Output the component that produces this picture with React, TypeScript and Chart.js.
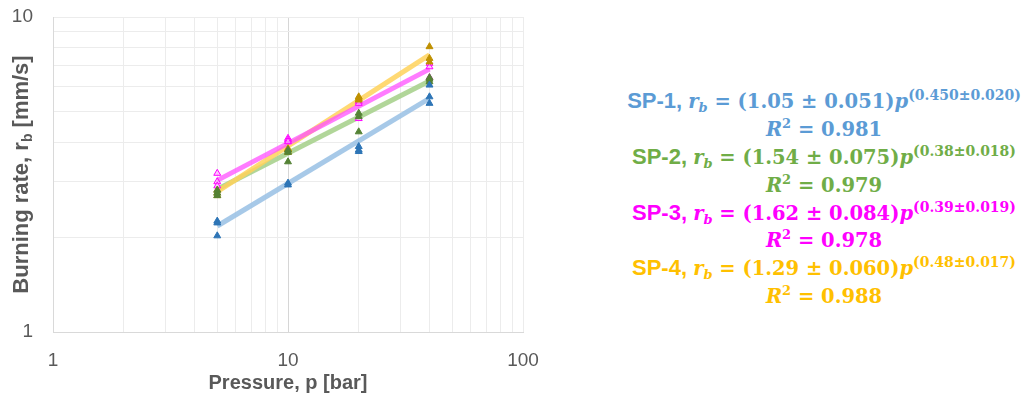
import React, { useEffect, useRef } from "react";
import { Chart, registerables } from "chart.js";

Chart.register(...registerables);

// ---- data ----
const sp1Pressure = [5, 5, 5, 10, 10, 20, 20, 20, 40, 40, 40];
const sp1Rate = [2.25, 2.22, 2.02, 2.97, 2.93, 3.88, 3.78, 3.74, 6.08, 5.58, 5.32];
const sp2Pressure = [5, 5, 5, 10, 10, 10, 20, 20, 20, 40, 40, 40];
const sp2Rate = [2.82, 2.76, 2.71, 3.78, 3.72, 3.47, 4.95, 4.83, 4.32, 6.42, 6.35, 6.23];
const sp3Pressure = [5, 5, 5, 10, 10, 10, 20, 20, 20, 40, 40, 40];
const sp3Rate = [3.19, 3.0, 2.91, 4.12, 4.07, 4.02, 5.4, 5.32, 4.76, 7.13, 6.95, 6.42];
const sp4Pressure = [5, 5, 5, 10, 10, 10, 20, 20, 20, 40, 40, 40];
const sp4Rate = [2.82, 2.76, 2.71, 3.82, 3.78, 3.72, 5.58, 5.52, 5.45, 8.05, 7.39, 7.2];

const fitPressure = [5, 40];
const sp1Fit = [2.17, 5.52];
const sp2Fit = [2.84, 6.26];
const sp3Fit = [3.03, 6.83];
const sp4Fit = [2.79, 7.58];

const xTickValues = [1, 2, 3, 4, 5, 6, 7, 8, 9, 10, 20, 30, 40, 50, 60, 70, 80, 90, 100];
const yTickValues = [1, 2, 3, 4, 5, 6, 7, 8, 9, 10];
const xLabelled = [1, 10, 100];
const yLabelled = [1, 10];

const seriesNames = ["SP-1", "SP-2", "SP-3", "SP-4"];
const coefA = ["1.05", "1.54", "1.62", "1.29"];
const coefAErr = ["0.051", "0.075", "0.084", "0.060"];
const expN = ["0.450", "0.38", "0.39", "0.48"];
const expNErr = ["0.020", "0.018", "0.019", "0.017"];
const rSquared = ["0.981", "0.979", "0.978", "0.988"];
const eqColors = ["#5B9BD5", "#70AD47", "#FF00FF", "#FFC000"];

const SANS = "'Liberation Sans', Arial, sans-serif";
const SERIF = "'DejaVu Serif', serif";
const GREY = "#595959";

const pts = (xs: number[], ys: number[]) => xs.map((x, i) => ({ x, y: ys[i] }));

const scatterSet = (label: string, xs: number[], ys: number[], fill: string, border: string, order: number) => ({
  label,
  data: pts(xs, ys),
  showLine: false,
  pointStyle: "triangle",
  pointRadius: 4,
  pointHoverRadius: 4,
  backgroundColor: fill,
  borderColor: border,
  borderWidth: 1,
  order,
});

const fitSet = (label: string, ys: number[], color: string, order: number) => ({
  label,
  data: pts(fitPressure, ys),
  showLine: true,
  pointRadius: 0,
  borderColor: color,
  backgroundColor: color,
  borderWidth: 5,
  fill: false,
  order,
});

const yTitlePlugin = {
  id: "yTitle",
  afterDraw(chart: any) {
    const ctx = chart.ctx;
    const area = chart.chartArea;
    const cy = (area.top + area.bottom) / 2;
    ctx.save();
    ctx.translate(22, cy);
    ctx.rotate(-Math.PI / 2);
    ctx.fillStyle = GREY;
    ctx.textBaseline = "middle";
    ctx.textAlign = "left";
    const big = `bold 22px ${SANS}`;
    const small = `bold 14px ${SANS}`;
    const p1 = "Burning rate, r";
    const p2 = "b";
    const p3 = " [mm/s]";
    ctx.font = big;
    const w1 = ctx.measureText(p1).width;
    const w3 = ctx.measureText(p3).width;
    ctx.font = small;
    const w2 = ctx.measureText(p2).width;
    let x = -(w1 + w2 + w3) / 2;
    ctx.font = big;
    ctx.fillText(p1, x, 0);
    x += w1;
    ctx.font = small;
    ctx.fillText(p2, x, 6);
    x += w2;
    ctx.font = big;
    ctx.fillText(p3, x, 0);
    ctx.restore();
  },
};

function ChartCanvas() {
  const ref = useRef<HTMLCanvasElement | null>(null);
  useEffect(() => {
    if (!ref.current) return;
    const chart = new Chart(ref.current, {
      type: "scatter",
      data: {
        datasets: [
          scatterSet("SP-1 data", sp1Pressure, sp1Rate, "#2E75B6", "#2E75B6", 0),
          scatterSet("SP-2 data", sp2Pressure, sp2Rate, "#548235", "#548235", 0),
          scatterSet("SP-4 data", sp4Pressure, sp4Rate, "#BF9000", "#BF9000", 0),
          scatterSet("SP-3 data", sp3Pressure, sp3Rate, "rgba(255,170,255,0.6)", "#FF00FF", 0),
          fitSet("SP-3 fit", sp3Fit, "rgba(255,80,255,0.75)", 1),
          fitSet("SP-4 fit", sp4Fit, "rgba(255,210,90,0.85)", 2),
          fitSet("SP-2 fit", sp2Fit, "rgba(169,209,142,0.9)", 3),
          fitSet("SP-1 fit", sp1Fit, "rgba(157,195,230,0.9)", 4),
        ] as any,
      },
      options: {
        animation: false,
        responsive: false,
        maintainAspectRatio: false,
        layout: { padding: { left: 0, top: 17, right: 37, bottom: 0 } },
        plugins: { legend: { display: false }, tooltip: { enabled: false } },
        scales: {
          x: {
            type: "logarithmic",
            position: "bottom",
            min: 1,
            max: 100,
            afterBuildTicks: (s: any) => {
              s.ticks = xTickValues.map((v) => ({ value: v }));
            },
            afterFit: (s: any) => {
              s.height = 67;
              s.paddingLeft = 0;
              s.paddingRight = 0;
            },
            ticks: {
              autoSkip: false,
              maxRotation: 0,
              padding: 17,
              color: GREY,
              font: { family: SANS, size: 19 },
              callback: (v: any) => (xLabelled.includes(Number(v)) ? String(v) : ""),
            },
            grid: {
              drawTicks: false,
              color: (c: any) => (c.tick && c.tick.value === 10 ? "#D6D6D6" : "#ECECEC"),
            },
            border: { color: "#D9D9D9" },
            title: {
              display: true,
              text: "Pressure, p [bar]",
              color: GREY,
              font: { family: SANS, size: 20, weight: "bold" },
              padding: { top: 0, bottom: 4 },
            },
          },
          y: {
            type: "logarithmic",
            min: 1,
            max: 10,
            afterBuildTicks: (s: any) => {
              s.ticks = yTickValues.map((v) => ({ value: v }));
            },
            afterFit: (s: any) => {
              s.width = 53;
              s.paddingTop = 0;
              s.paddingBottom = 0;
            },
            ticks: {
              autoSkip: false,
              padding: 20,
              color: GREY,
              font: { family: SANS, size: 19 },
              callback: (v: any) => (yLabelled.includes(Number(v)) ? String(v) : ""),
            },
            grid: { drawTicks: false, color: "#ECECEC" },
            border: { color: "#D9D9D9" },
          },
        },
      } as any,
      plugins: [yTitlePlugin],
    });
    return () => chart.destroy();
  }, []);
  return <canvas ref={ref} width={560} height={399} style={{ position: "absolute", left: 0, top: 0 }} />;
}

function Equations() {
  const lineStyle: React.CSSProperties = {
    height: 27.9,
    lineHeight: "27.9px",
    whiteSpace: "nowrap",
    textAlign: "center",
  };
  const math: React.CSSProperties = { fontFamily: SERIF, fontWeight: "bold" };
  return (
    <div style={{ position: "absolute", left: 604, top: 82, width: 440 }}>
      {seriesNames.map((name, i) => (
        <div key={name} style={{ color: eqColors[i] }}>
          <div style={lineStyle}>
            <span style={{ fontFamily: SANS, fontWeight: "bold", fontSize: 22 }}>{name}, </span>
            <span style={{ ...math, fontSize: 19.5 }}>
              <i>r</i>
              <span style={{ fontSize: 13, fontStyle: "italic", verticalAlign: -4 }}>b</span>
              {" = ("}
              {coefA[i]}
              {" ± "}
              {coefAErr[i]}
              {")"}
              <i>p</i>
              <span style={{ fontSize: 14, verticalAlign: 8 }}>
                ({expN[i]}±{expNErr[i]})
              </span>
            </span>
          </div>
          <div style={lineStyle}>
            <span style={{ ...math, fontSize: 19.5 }}>
              <i>R</i>
              <span style={{ fontSize: 13, verticalAlign: 8 }}>2</span>
              {" = "}
              {rSquared[i]}
            </span>
          </div>
        </div>
      ))}
    </div>
  );
}

export default function App() {
  return (
    <div style={{ position: "fixed", left: 0, top: 0, width: 1023, height: 399, background: "#fff", overflow: "hidden" }}>
      <ChartCanvas />
      <Equations />
    </div>
  );
}
